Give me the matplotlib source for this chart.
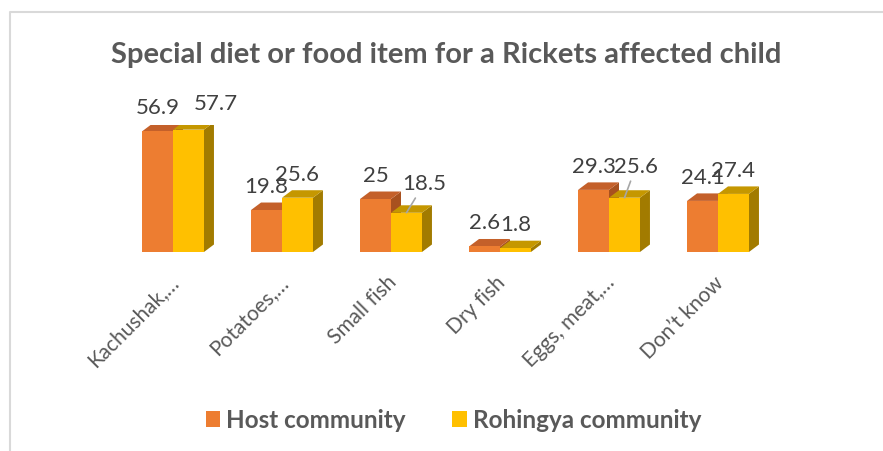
import matplotlib
matplotlib.use("Agg")
import matplotlib.pyplot as plt
from matplotlib.patches import Polygon, Patch
from matplotlib.lines import Line2D

# data
categories = ["Kachushak,\u2026", "Potatoes,\u2026", "Small fish", "Dry fish",
              "Eggs, meat,\u2026", "Don\u2019t know"]
host = [56.9, 19.8, 25, 2.6, 29.3, 24.1]
rohingya = [57.7, 25.6, 18.5, 1.8, 25.6, 27.4]
series_names = ["Host community", "Rohingya community"]

# label nudges (points): (series, index) -> (dx, dy, leader line)
nudges = {(1, 0): (20, 19.5, False),
          (1, 2): (13, 21.5, True),
          (1, 4): (8.5, 23, True)}

front = ["#ED7D31", "#FFC000"]
top_c = ["#C4602A", "#C59700"]
side_c = ["#A8511F", "#A27B00"]
txt = "#595959"

plt.rcParams['font.family'] = ['Lato', 'DejaVu Sans']

fig = plt.figure(figsize=(8.83, 4.52), dpi=100)
ax = fig.add_axes([118.5 / 883, 199 / 452, 654 / 883, 127.2 / 452])
ax.set_xlim(-0.5, len(categories) - 0.5)
ax.set_ylim(0, 60)
ax.axis('off')

w = 0.284
# depth of the fake 3d boxes, in pixels turned into data units
px_x = 654 / 6.0
px_y = 127.2 / 60.0
ddx = 10 / px_x
ddy = 7.5 / px_y

for s, vals in enumerate([host, rohingya]):
    for i, v in enumerate(vals):
        x0 = i - w + s * w
        x1 = x0 + w
        side = Polygon([(x1, 0), (x1 + ddx, ddy), (x1 + ddx, v + ddy), (x1, v)],
                       closed=True, fc=side_c[s], ec='none', zorder=2 + s * 3)
        topf = Polygon([(x0, v), (x0 + ddx, v + ddy), (x1 + ddx, v + ddy), (x1, v)],
                       closed=True, fc=top_c[s], ec='none', zorder=3 + s * 3)
        ax.add_patch(side)
        ax.add_patch(topf)
    ax.bar([i - w / 2 + s * w for i in range(len(vals))], vals, width=w,
           color=front[s], zorder=4 + s * 3)

for s, vals in enumerate([host, rohingya]):
    for i, v in enumerate(vals):
        xc = i - w / 2 + s * w
        dx, dy, lead = nudges.get((s, i), (0, 17.3, False))
        arrow = None
        if lead:
            arrow = dict(arrowstyle='-', color="#A6A6A6", lw=1.2, shrinkA=2, shrinkB=0)
        ax.annotate(f"{v:g}", xy=(xc, v), xytext=(dx, dy),
                    textcoords='offset points', ha='center', va='center',
                    fontsize=16, color="#404040", zorder=20, arrowprops=arrow)

for i, c in enumerate(categories):
    ax.annotate(c, xy=(i, 0), xytext=(7, -14), textcoords='offset points',
                rotation=45, ha='right', va='top', fontsize=15, color=txt)

fig.text(446 / 883, 1 - 55 / 452, "Special diet or food item for a Rickets affected child",
         ha='center', va='center', fontsize=21, fontweight='bold', color=txt)

handles = [Patch(fc=front[0], ec='none'), Patch(fc=front[1], ec='none')]
leg = fig.legend(handles, series_names, loc='center', ncol=2, frameon=False,
                 bbox_to_anchor=(453.5 / 883, 1 - 421 / 452),
                 handlelength=0.6, handleheight=0.6, handletextpad=0.25,
                 columnspacing=1.9, prop={'weight': 'bold', 'size': 17.5})
for t in leg.get_texts():
    t.set_color(txt)

# chart area border (left and top only visible)
fig.add_artist(Line2D([9.5 / 883, 9.5 / 883, 1], [0, 1 - 13 / 452, 1 - 13 / 452],
                      transform=fig.transFigure, color="#D9D9D9", lw=1.5))

fig.savefig("out.png", dpi=100)
